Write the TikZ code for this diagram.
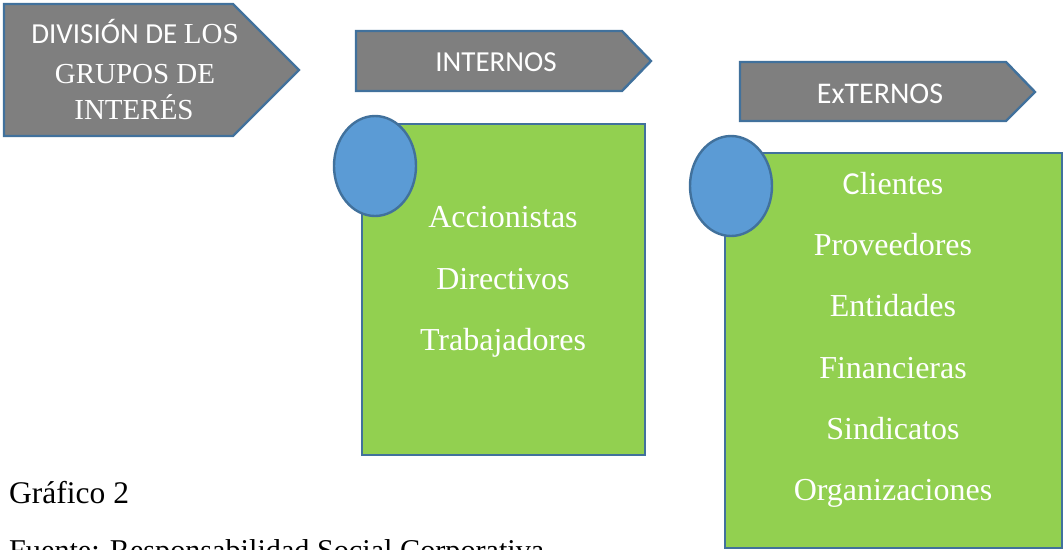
\documentclass[tikz,border=0pt]{standalone}
\usepackage{fontspec}
\setmainfont{Liberation Serif}
\newfontfamily\calibrif{Carlito}
\usetikzlibrary{shapes.geometric}
\definecolor{edgeblue}{HTML}{41719C}
\definecolor{greyfill}{HTML}{7F7F7F}
\definecolor{greenfill}{HTML}{92D050}
\definecolor{bluefill}{HTML}{5B9BD5}
\newcommand{\px}[1]{\fontsize{#1}{#1}\selectfont}
\tikzset{
  x=1pt,y=-1pt,
  sign/.style={draw=edgeblue,fill=greyfill,line width=2.4pt,line join=miter},
  panel/.style={draw=edgeblue,fill=greenfill,line width=2.4pt},
  dot/.style={ellipse,draw=edgeblue,fill=bluefill,line width=2.4pt,inner sep=0pt,minimum width=82pt,minimum height=100pt},
  signtext/.style={text=white,inner sep=0pt,anchor=base},
  listtext/.style={text=white,inner sep=0pt,anchor=base,font=\px{32}},
  plain/.style={text=black,inner sep=0pt,anchor=base west},
}
\begin{document}
\begin{tikzpicture}
\useasboundingbox (0,0) rectangle (1063,549);
\clip (0,0) rectangle (1063,549);
\fill[white] (0,0) rectangle (1063,549);
% signs
\draw[sign] (4,4) -- (233,4) -- (299,70) -- (233,136) -- (4,136) -- cycle;
\draw[sign] (356,31) -- (622,31) -- (651,61) -- (622,91) -- (356,91) -- cycle;
\draw[sign] (740,62) -- (1006,62) -- (1035,92) -- (1006,121) -- (740,121) -- cycle;
\node[signtext] (t1) at (135,43) {\px{29}{\calibrif DIVISIÓN DE }LOS};
\node[signtext] (t2) at (135,83) {\px{29}GRUPOS DE};
\node[signtext] (t3) at (134,119) {\px{29}INTERÉS};
\node[signtext] (t4) at (496,71) {\px{29}\calibrif INTERNOS};
\node[signtext] (t5) at (880,103) {\px{30}\calibrif ExTERNOS};
% panels
\node[panel,minimum width=283pt,minimum height=331pt,inner sep=0pt] (p1) at (503.5,289.5) {};
\node[panel,minimum width=337pt,minimum height=395pt,inner sep=0pt] (p2) at (893.5,350.5) {};
\node[dot] (c1) at (375,166) {};
\node[dot] (c2) at (731,186) {};
% list 1
\node[listtext] (a1) at (503,227) {Accionistas};
\node[listtext] (a2) at (503,289) {Directivos};
\node[listtext] (a3) at (503,350) {Trabajadores};
% list 2
\node[listtext] (b1) at (893,194) {{\calibrif C}lientes};
\node[listtext] (b2) at (893,255) {Proveedores};
\node[listtext] (b3) at (893,316) {Entidades};
\node[listtext] (b4) at (893,378) {Financieras};
\node[listtext] (b5) at (893,439) {Sindicatos};
\node[listtext] (b6) at (893,500) {Organizaciones};
% captions
\node[plain,font=\px{31.5}] (g) at (9,503) {Gráfico 2};
\node[plain,font=\px{30.2}] (f) at (9,560) {Fuente: Responsabilidad Social Corporativa};
\end{tikzpicture}
\end{document}
